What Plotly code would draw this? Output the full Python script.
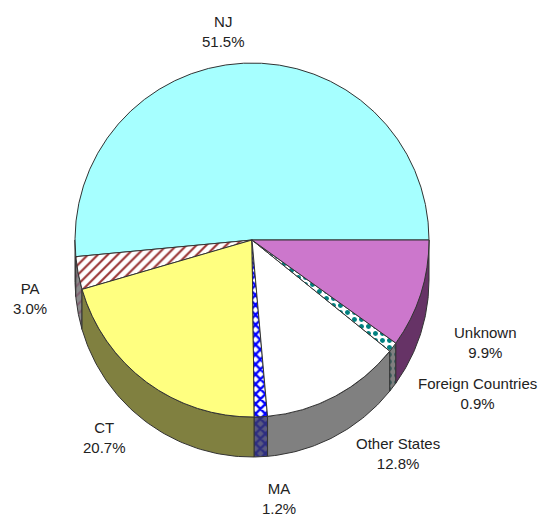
import numpy as np
import plotly.graph_objects as go

# ---- data ----
labels = ["NJ", "PA", "CT", "MA", "Other States", "Foreign Countries", "Unknown"]
values = [51.5, 3.0, 20.7, 1.2, 12.8, 0.9, 9.9]

# ---- styles ----
top_colors = ["#a6ffff", "#ffffff", "#ffff80", "#ffffff", "#ffffff", "#ffffff", "#cc77cc"]
top_patterns = ["", "/", "", "x", "", ".", ""]
pat_fg = ["#000000", "#993333", "#000000", "#0000ff", "#000000", "#008080", "#000000"]
pat_solid = [0.3, 0.3, 0.3, 0.55, 0.3, 0.4, 0.3]
side_colors = ["#538080", "#8a8a8a", "#808040", "#5a5a80", "#808080", "#808080", "#663366"]
side_fg = ["#000000", "#7a3a5a", "#000000", "#000080", "#000000", "#004040", "#000000"]

W, H = 542, 511
cx, cy, r, depth = 244, 232, 177, 40
line_col = "#333333"

fig = go.Figure()

# 3D side band, computed from cumulative values (angles counterclockwise from 3 o'clock)
total = sum(values)
cum = np.concatenate([[0], np.cumsum(values)]) / total * 360.0
for i, lab in enumerate(labels):
    a0, a1 = max(cum[i], 180.0), min(cum[i + 1], 360.0)
    if a1 <= a0:
        continue
    ang = np.radians(np.linspace(a0, a1, 60))
    xt = cx + r * np.cos(ang)
    yt = cy - r * np.sin(ang)
    xs = np.concatenate([xt, xt[::-1], xt[:1]])
    ys = np.concatenate([yt, yt[::-1] + depth, yt[:1]])
    kw = {}
    if top_patterns[i]:
        kw["fillpattern"] = dict(shape=top_patterns[i], fgcolor=side_fg[i],
                                 bgcolor=side_colors[i], size=7, solidity=pat_solid[i])
    fig.add_trace(go.Scatter(x=xs, y=ys, mode="lines", fill="toself",
                             fillcolor=side_colors[i],
                             line=dict(color=line_col, width=1),
                             hoverinfo="skip", showlegend=False, **kw))

# top face: first slice starts at 3 o'clock and runs counterclockwise
fig.add_trace(go.Pie(
    labels=labels, values=values, sort=False, direction="counterclockwise",
    rotation=90 - values[0] / total * 360.0, textinfo="none",
    hoverinfo="label+percent",
    marker=dict(colors=top_colors,
                line=dict(color=line_col, width=1),
                pattern=dict(shape=top_patterns, fgcolor=pat_fg,
                             bgcolor=top_colors, size=7, solidity=pat_solid)),
    domain=dict(x=[(cx - r) / W, (cx + r) / W],
                y=[(H - (cy + r)) / H, (H - (cy - r)) / H]),
    showlegend=False,
))

# labels
label_pos = [(215, 23), (22, 290), (96, 429), (271, 490), (390, 445), (469, 385), (477, 334)]
for lab, v, (lx, ly) in zip(labels, values, label_pos):
    fig.add_annotation(x=lx, y=ly, xref="x", yref="y", showarrow=False,
                       text=f"{lab}<br>{v:.1f}%", align="center",
                       font=dict(family="Liberation Sans, Arial", size=15, color="#222222"))

fig.update_layout(
    width=W, height=H, margin=dict(l=0, r=0, t=0, b=0),
    paper_bgcolor="white", plot_bgcolor="white",
    xaxis=dict(range=[0, W], visible=False, fixedrange=True),
    yaxis=dict(range=[H, 0], visible=False, fixedrange=True),
    showlegend=False,
)
fig.write_html("out.html")
